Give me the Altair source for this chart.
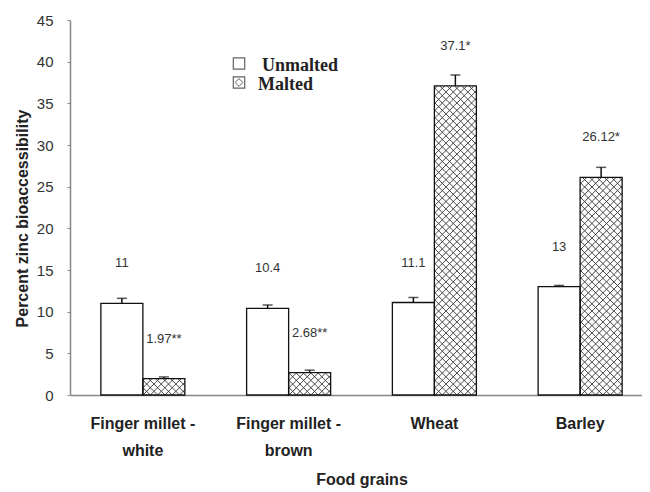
import altair as alt
import pandas as pd

# ---- data ----
grains = ["Finger millet - white", "Finger millet - brown", "Wheat", "Barley"]
series = ["Unmalted", "Malted"]
unmalted = [11, 10.4, 11.1, 13]
malted = [1.97, 2.68, 37.1, 26.12]
unmalted_err = [0.6, 0.4, 0.6, 0.15]
malted_err = [0.2, 0.3, 1.3, 1.2]
unmalted_labels = ["11", "10.4", "11.1", "13"]
malted_labels = ["1.97**", "2.68**", "37.1*", "26.12*"]
y_ticks = [0, 5, 10, 15, 20, 25, 30, 35, 40, 45]

# ---- layout ----
W, H = 572, 375
X_RANGE = 583
Y_MAX = 45
OFF_PAD = 0.735
HATCH = 7.3

rows = []
for i, g in enumerate(grains):
    rows.append(dict(grain=g, series="Unmalted", value=unmalted[i],
                     top=unmalted[i] + unmalted_err[i], label=unmalted_labels[i]))
    rows.append(dict(grain=g, series="Malted", value=malted[i],
                     top=malted[i] + malted_err[i], label=malted_labels[i]))
df = pd.DataFrame(rows)

# cross-hatch texture for the malted bars (computed from the bar geometry)
step = X_RANGE / len(grains)
off_step = step / (2 + 2 * OFF_PAD)
pad = OFF_PAD * off_step
hrows = []
for i, v in enumerate(malted):
    x0 = step * i + pad + off_step
    x1 = x0 + off_step
    hp = v * H / Y_MAX
    k0 = int(x0 // HATCH) - 1
    k1 = int((x1 + hp) // HATCH) + 2
    for k in range(k0, k1):
        c = k * HATCH
        ya, yb = max(0, c - x1), min(hp, c - x0)
        if yb > ya:
            hrows.append(dict(hx=c - ya, hx2=c - yb, value=ya * Y_MAX / H, value2=yb * Y_MAX / H))
    k0 = int((x0 - hp) // HATCH) - 1
    k1 = int(x1 // HATCH) + 2
    for k in range(k0, k1):
        c = k * HATCH
        ya, yb = max(0, x0 - c), min(hp, x1 - c)
        if yb > ya:
            hrows.append(dict(hx=c + ya, hx2=c + yb, value=ya * Y_MAX / H, value2=yb * Y_MAX / H))
hdf = pd.DataFrame(hrows)

FONT = "Liberation Sans"
yscale = alt.Scale(domain=[0, Y_MAX], nice=False)
yaxis = alt.Axis(values=y_ticks, title="Percent zinc bioaccessibility", grid=False,
                 domainColor="#888", domainWidth=1.5, tickColor="#888", tickSize=3,
                 labelPadding=14, labelFontSize=15, labelFont=FONT, labelColor="#333",
                 titleFont=FONT, titleFontSize=16, titleFontWeight="bold", titleColor="#222",
                 titleX=-48, titleY=198, titleAlign="center", titleBaseline="middle", titleAngle=-90)
xscale = alt.Scale(range=[0, X_RANGE], paddingInner=0, paddingOuter=0)
xaxis = alt.Axis(title="Food grains", ticks=False, labelAngle=0, domainColor="#888", domainWidth=1.5,
                 labelFont=FONT, labelFontSize=16, labelFontWeight="bold", labelColor="#222",
                 labelPadding=20, labelLineHeight=27,
                 labelExpr="indexof(datum.label, ' - ') > 0 ? [slice(datum.label, 0, indexof(datum.label, ' - ') + 2), slice(datum.label, indexof(datum.label, ' - ') + 3)] : datum.label",
                 titleFont=FONT, titleFontSize=16, titleFontWeight="bold", titleColor="#222",
                 titleY=76, titleBaseline="top")

X = alt.X("grain:N", sort=grains, scale=xscale, axis=xaxis)
X_plain = alt.X("grain:N", sort=grains, scale=xscale, axis=None)
XO = alt.XOffset("series:N", sort=series, scale=alt.Scale(paddingInner=0, paddingOuter=OFF_PAD))
Y = alt.Y("value:Q", scale=yscale, axis=yaxis)

base = alt.Chart(df)

# back: white bar fills (carries the x axis)
bars_fill = base.mark_bar(fill="white", strokeWidth=0).encode(x=X, xOffset=XO, y=Y)

# cross-hatch texture on the malted bars
hatch = alt.Chart(hdf).mark_rule(color="#333", strokeWidth=0.9).encode(
    x=alt.X("hx:Q", scale=alt.Scale(domain=[0, X_RANGE], range=[0, X_RANGE], nice=False, zero=False), axis=None),
    x2="hx2:Q",
    y=Y,
    y2="value2:Q")

# front: outlines, error bars, value labels
bars_stroke = base.mark_bar(fillOpacity=0, stroke="#111", strokeWidth=1.3).encode(x=X_plain, xOffset=XO, y=Y)
stem = base.mark_rule(color="#111", strokeWidth=1.5).encode(x=X_plain, xOffset=XO, y=Y, y2="top:Q")
cap = base.mark_tick(color="#111", thickness=1.5, size=10).encode(
    x=X_plain, xOffset=XO, y=alt.Y("top:Q", scale=yscale, axis=yaxis))
labels = base.mark_text(dy=-40, fontSize=13, font=FONT, color="#333").encode(
    x=X_plain, xOffset=XO, y=Y, text="label:N")
front = alt.layer(bars_stroke, stem, cap, labels)

one = pd.DataFrame({"a": [0]})
leg_sq1 = alt.Chart(one).mark_square(size=130, filled=False, stroke="#222", strokeWidth=1.2).encode(
    x=alt.value(169), y=alt.value(43.5))
leg_sq2 = alt.Chart(one).mark_square(size=130, filled=False, stroke="#222", strokeWidth=1.2).encode(
    x=alt.value(169), y=alt.value(62.5))
leg_dm2 = alt.Chart(one).mark_point(shape="diamond", size=60, filled=False, stroke="#222", strokeWidth=1).encode(
    x=alt.value(169), y=alt.value(62.5))
leg_t1 = alt.Chart(pd.DataFrame({"t": [series[0]]})).mark_text(
    align="left", baseline="alphabetic", font="Liberation Serif", fontWeight="bold", fontSize=18, color="#222").encode(
    x=alt.value(192), y=alt.value(51), text="t:N")
leg_t2 = alt.Chart(pd.DataFrame({"t": [series[1]]})).mark_text(
    align="left", baseline="alphabetic", font="Liberation Serif", fontWeight="bold", fontSize=18, color="#222").encode(
    x=alt.value(188), y=alt.value(70), text="t:N")

chart = alt.layer(
    bars_fill,
    hatch,
    front,
    leg_sq1, leg_sq2, leg_dm2, leg_t1, leg_t2,
).resolve_scale(x="independent").properties(
    width=W, height=H,
    autosize="none",
    padding={"left": 62, "top": 12, "right": 0, "bottom": 95},
).configure_view(stroke=None)

chart.save("out.html", embed_options={"renderer": "svg", "actions": False})
